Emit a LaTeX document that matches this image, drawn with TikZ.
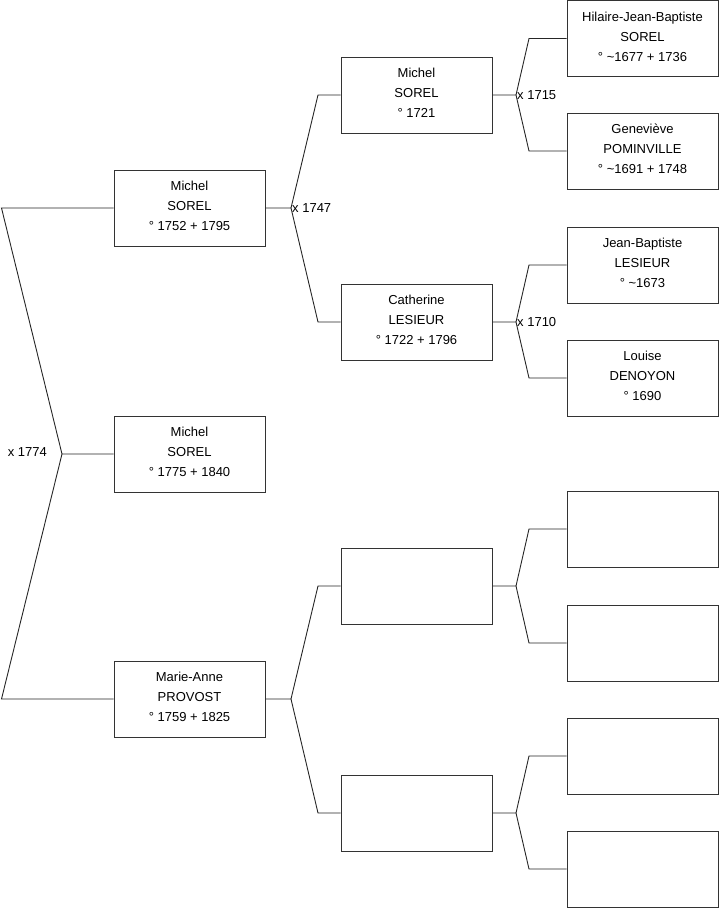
\documentclass[tikz,border=0pt]{standalone}
\usepackage{fontspec}
\setmainfont{Liberation Sans}
\usetikzlibrary{positioning}
\tikzset{
  person/.style={draw=black!80,line width=1pt,fill=white,minimum width=151pt,minimum height=76pt,
    inner sep=0pt,align=center,text depth=4pt,font=\fontsize{13}{20}\selectfont},
  link/.style={draw=black!85,line width=0.9pt},
  wed/.style={inner sep=1pt,font=\fontsize{13}{15}\selectfont}
}

\begin{document}
\begin{tikzpicture}[x=1pt,y=-1pt]
        \useasboundingbox (0,0) rectangle (719,908);
        % column 1
        \node[person] (me) at (189.5,454) {Michel\\SOREL\\° 1775 + 1840};
        \node[person] (dad) at (189.5,208) {Michel\\SOREL\\° 1752 + 1795};
        \node[person] (mum) at (189.5,699) {Marie-Anne\\PROVOST\\° 1759 + 1825};
        % column 2
        \node[person] (gpa) at (416.5,95) {Michel\\SOREL\\° 1721};
        \node[person] (gma) at (416.5,322) {Catherine\\LESIEUR\\° 1722 + 1796};
        \node[person] (mgpa) at (416.5,586) {};
        \node[person] (mgma) at (416.5,813) {};
        % column 3
        \node[person] (g1) at (642.5,38.5) {Hilaire-Jean-Baptiste\\SOREL\\° \textasciitilde1677 + 1736};
        \node[person] (g2) at (642.5,151) {Geneviève\\POMINVILLE\\° \textasciitilde1691 + 1748};
        \node[person] (g3) at (642.5,265) {Jean-Baptiste\\LESIEUR\\° \textasciitilde1673};
        \node[person] (g4) at (642.5,378) {Louise\\DENOYON\\° 1690};
        \node[person] (g5) at (642.5,529) {};
        \node[person] (g6) at (642.5,643) {};
        \node[person] (g7) at (642.5,756) {};
        \node[person] (g8) at (642.5,869) {};

        % forks
        \coordinate (f0) at (62,454);
        \coordinate (f1) at (291,208);
        \coordinate (f2) at (291,699);
        \coordinate (f3) at (516,95);
        \coordinate (f4) at (516,322);
        \coordinate (f5) at (516,586);
        \coordinate (f6) at (516,813);

        \draw[link] (me.west) -- (f0) -- (1.5,208) -- (dad.west);
        \draw[link] (f0) -- (1.5,699) -- (mum.west);
        \draw[link] (dad.east) -- (f1) -- (318,95) -- (gpa.west);
        \draw[link] (f1) -- (318,322) -- (gma.west);
        \draw[link] (mum.east) -- (f2) -- (318,586) -- (mgpa.west);
        \draw[link] (f2) -- (318,813) -- (mgma.west);
        \draw[link] (gpa.east) -- (f3) -- (529,38.5) -- (g1.west);
        \draw[link] (f3) -- (529,151) -- (g2.west);
        \draw[link] (gma.east) -- (f4) -- (529,265) -- (g3.west);
        \draw[link] (f4) -- (529,378) -- (g4.west);
        \draw[link] (mgpa.east) -- (f5) -- (529,529) -- (g5.west);
        \draw[link] (f5) -- (529,643) -- (g6.west);
        \draw[link] (mgma.east) -- (f6) -- (529,756) -- (g7.west);
        \draw[link] (f6) -- (529,869) -- (g8.west);

        % marriages
        \node[wed,anchor=east] (m0) at (48,452) {x 1774};
        \node[wed,anchor=west] (m1) at (f1) {x 1747};
        \node[wed,anchor=west] (m3) at (f3) {x 1715};
        \node[wed,anchor=west] (m4) at (f4) {x 1710};
      \end{tikzpicture}
\end{document}
